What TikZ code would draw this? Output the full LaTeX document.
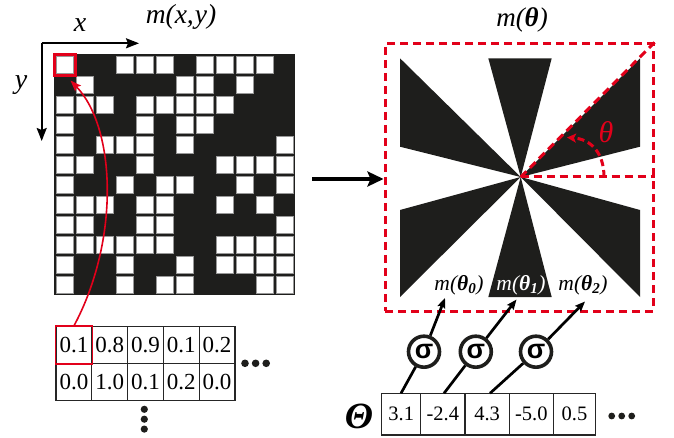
\documentclass[tikz,border=0pt]{standalone}
\usepackage{fontspec}
\setmainfont{Liberation Serif}
\newfontfamily\sigmafont{Liberation Sans}
\usetikzlibrary{arrows.meta}
\definecolor{myred}{RGB}{226,0,26}
\definecolor{ink}{RGB}{30,30,28}
\tikzset{
  fs/.style={font=\fontsize{#1}{#1}\selectfont},
  reddash/.style={draw=myred, line width=3pt, dash pattern=on 8pt off 5pt},
  axis/.style={line width=2pt, -{Stealth[length=13pt,width=10pt,inset=2pt]}},
  blkarrow/.style={line width=2.7pt, -{Stealth[length=10pt,width=8pt,inset=1.5pt]}},
  blkline/.style={line width=2.7pt},
  lcell/.style={draw=black!85, line width=1.3pt, minimum width=35.8pt, minimum height=36.8pt, inner sep=0pt, fs=23},
  rcell/.style={draw=black!85, line width=1.3pt, minimum height=41.7pt, inner sep=0pt, fs=20.5},
  sig/.style={circle, draw=ink, line width=3.6pt, minimum size=31pt, inner sep=0pt, font=\sigmafont\bfseries\fontsize{27}{27}\selectfont},
  wsq/.style={fill=white, draw=black!40, line width=0.6pt},
  dot/.style={fill=ink, draw=none}
}
\begin{document}
\begin{tikzpicture}[x=1pt,y=-1pt]
\useasboundingbox (0,0) rectangle (674,438);

% ---------- left grid ----------
\node[fs=27.5] (tmxy) at (181,17) {\textit{m(x,\kern1pt y)}};
\node[fs=28] (lx) at (80,25) {\textit{x}};
\node[fs=28] (ly) at (21,85) {\textit{y}};
\coordinate (orig) at (41.7,43.3);
\coordinate (xend) at (139,43.3);
\coordinate (yend) at (41.7,141);
\draw[axis] (orig) -- (xend);
\draw[axis] (orig) -- (yend);

\node[fill=ink, minimum size=241.6pt, inner sep=0pt] (grid) at (174.6,174.6) {};
\foreach \r/\cols in {0/{0,3,4,5,7,8,9,10},1/{1,6,7,9},2/{0,1,2,4,5,6,7,8},3/{0,4,6,7},
  4/{0,2,3,4,6,11},5/{0,1,4,8,9,10,11},6/{0,3,5,6,9,11},7/{0,1,2,4,5,8,10},
  8/{0,1,4,5,11},9/{0,1,2,3,4,5,8,9,10,11},10/{0,3,6,8,9,10,11},11/{0,3,5,6,10,11}}{
  \foreach \c in \cols {
    \path[wsq] ({56.1+20*\c},{56.1+20*\r}) rectangle ++(16.8,16.8);
  }
}
\node[draw=myred, line width=2.3pt, minimum size=21pt, inner sep=0pt] (redsq) at (65,65) {};

% ---------- left table ----------
\foreach \v [count=\i from 0] in {0.1,0.8,0.9,0.1,0.2}{
  \node[lcell] (a\i) at ({73.9+35.8*\i},345) {\v};
}
\foreach \v [count=\i from 0] in {0.0,1.0,0.1,0.2,0.0}{
  \node[lcell] (b\i) at ({73.9+35.8*\i},381.8) {\v};
}
\draw[myred, line width=1.3pt] (a0.south west) rectangle (a0.north east);
\fill[dot] (245,363.3) circle (3.8) (255.6,363.3) circle (3.8) (266.2,363.3) circle (3.8);
\fill[dot] (144.3,409.3) circle (3.6) (144.3,419.2) circle (3.6) (144.3,429.1) circle (3.6);

\coordinate (tipred) at (70.5,80.5);
\draw[myred, line width=1.6pt, -{Stealth[length=11pt,width=8pt,inset=2pt]}]
  (a0.north) .. controls (120,240) and (116,128) .. (tipred);

% ---------- main arrow ----------
\node[reddash, minimum width=268pt, minimum height=267pt, inner sep=0pt] (tbox) at (519,177.5) {};
\coordinate (harrs) at (312,179);
\draw[line width=3.6pt, -{Stealth[length=16pt,width=15pt,inset=3pt]}] (harrs) -- (tbox.west |- harrs);

% ---------- star ----------
\node[fs=27] (tmt) at (522,20) {\textit{m(\textbf{θ})}};
\coordinate (c) at (520.7,177);
\fill[ink] (c) -- (400,58.3) -- (400,146.7) -- cycle;
\fill[ink] (c) -- (488.3,58.3) -- (551.7,58.3) -- cycle;
\fill[ink] (c) -- (640,58.3) -- (640,146.7) -- cycle;
\fill[ink] (c) -- (400,210) -- (400,297) -- cycle;
\fill[ink] (c) -- (488.3,297) -- (551.7,297) -- cycle;
\fill[ink] (c) -- (640,210) -- (640,297) -- cycle;

\draw[reddash] (c) -- (tbox.east |- c);
\draw[reddash] (c) -- (tbox.north east);
\coordinate (arcs) at (604,177);
\coordinate (arce) at (567,137.5);
\draw[reddash, dash pattern=on 7pt off 4pt, -{Stealth[length=9pt,width=9pt,inset=2pt]}]
  (arcs) .. controls (604,152) and (590,139) .. (arce);
\node[fs=30, text=myred] (thl) at (606,132) {\textit{θ}};

\node[fs=21.5] (m0) at (459,285) {\textit{m(\textbf{θ}\textsubscript{\textbf{0}})}};
\node[fs=21.5, text=white] (m1) at (521,285) {\textit{m(\textbf{θ}\textsubscript{\textbf{1}})}};
\node[fs=21.5] (m2) at (583,285) {\textit{m(\textbf{θ}\textsubscript{\textbf{2}})}};

% ---------- Theta table ----------
\node[fs=37] (bigT) at (359,416) {\textbf{\textit{Θ}}};
\node[rcell, minimum width=39pt] (t1) at (401.2,414.2) {3.1};
\node[rcell, minimum width=44.3pt] (t2) at (442.85,414.2) {-2.4};
\node[rcell, minimum width=44.3pt] (t3) at (487.15,414.2) {4.3};
\node[rcell, minimum width=44pt] (t4) at (531.3,414.2) {-5.0};
\node[rcell, minimum width=42.4pt] (t5) at (574.5,414.2) {0.5};
\fill[dot] (611.7,416) circle (3.4) (621.7,416) circle (3.4) (631.7,416) circle (3.4);

\node[sig] (s1) at (424,351.7) {σ};
\node[sig] (s2) at (475.8,351.7) {σ};
\node[sig] (s3) at (536,351.7) {σ};
\coordinate (p1) at (401,393.3);
\coordinate (p2) at (444,393.3);
\coordinate (p3) at (490,393.3);
\coordinate (e1) at (445,298);
\coordinate (e2) at (516.5,299.5);
\coordinate (e3) at (585,301.5);
\draw[blkline] (p1) -- (s1);
\draw[blkline] (p2) -- (s2);
\draw[blkline] (p3) -- (s3);
\draw[blkarrow] (s1) -- (e1);
\draw[blkarrow] (s2) -- (e2);
\draw[blkarrow] (s3) -- (e3);
\end{tikzpicture}
\end{document}
